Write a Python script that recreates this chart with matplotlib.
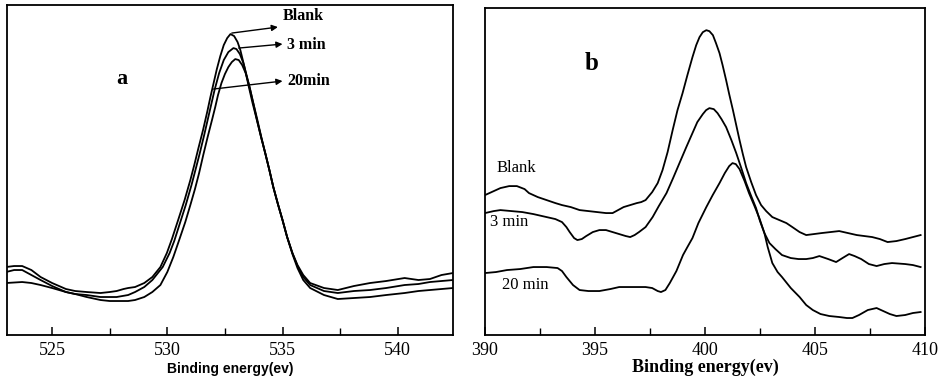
import matplotlib
matplotlib.use("Agg")
import matplotlib.pyplot as plt
from matplotlib.ticker import MultipleLocator

# ---- panel a : O 1s spectra, (binding energy, intensity) ----
a_blank = [(523.0, 68), (523.35, 69), (523.7, 69), (524.1, 65), (524.5, 58), (525.0, 52),
           (525.6, 46), (526.0, 44), (526.5, 43), (527.1, 42), (527.5, 43), (527.8, 44),
           (528.1, 46), (528.3, 47), (528.6, 48), (529.0, 52), (529.35, 58), (529.7, 68),
           (529.98, 82), (530.2, 96), (530.47, 115), (530.75, 135), (531.0, 155), (531.17, 170),
           (531.34, 186), (531.55, 205), (531.74, 224), (531.87, 238), (532.0, 251), (532.15, 266),
           (532.3, 279), (532.45, 290), (532.6, 297), (532.74, 301), (532.9, 299), (533.05, 293),
           (533.17, 285), (533.35, 268), (533.52, 250), (533.7, 232), (533.9, 214), (534.08, 197),
           (534.26, 181), (534.43, 165), (534.6, 148), (534.8, 131), (535.0, 115), (535.2, 98),
           (535.43, 82), (535.65, 70), (535.9, 60), (536.2, 52), (536.8, 47), (537.4, 45),
           (538.1, 49), (538.8, 52), (539.5, 54), (540.3, 57), (540.9, 55), (541.4, 56),
           (541.9, 60), (542.4, 62)]

a_3min = [(523.0, 63), (523.35, 65), (523.7, 65), (524.1, 60), (524.5, 55), (525.0, 49),
          (525.6, 43), (526.0, 41), (526.5, 40), (527.1, 38), (527.5, 38), (527.8, 38),
          (528.3, 40), (528.6, 43), (529.0, 48), (529.35, 55), (529.8, 68), (530.1, 82),
          (530.3, 94), (530.55, 112), (530.8, 130), (531.05, 150), (531.22, 165), (531.4, 181),
          (531.6, 200), (531.78, 218), (531.92, 232), (532.05, 245), (532.25, 262), (532.45, 275),
          (532.65, 283), (532.87, 287), (533.0, 286), (533.15, 281), (533.3, 272), (533.45, 259),
          (533.6, 245), (533.75, 230), (533.9, 214), (534.08, 197), (534.26, 181), (534.43, 165),
          (534.6, 148), (534.8, 131), (535.0, 115), (535.2, 98), (535.43, 82), (535.65, 69),
          (535.9, 58), (536.2, 50), (536.8, 44), (537.4, 42), (538.1, 44), (538.8, 45),
          (539.5, 47), (540.3, 50), (540.9, 51), (541.4, 53), (541.9, 54), (542.4, 55)]

a_20min = [(523.0, 52), (523.7, 53), (524.1, 52), (524.5, 50), (525.0, 47), (525.6, 43),
           (526.0, 41), (526.5, 38), (527.1, 35), (527.5, 34), (527.8, 34), (528.3, 34),
           (528.6, 35), (529.0, 38), (529.35, 43), (529.7, 50), (530.0, 63), (530.26, 78),
           (530.5, 94), (530.78, 113), (531.0, 130), (531.2, 146), (531.38, 162), (531.56, 180),
           (531.75, 198), (531.95, 216), (532.08, 228), (532.2, 240), (532.35, 252), (532.5, 261),
           (532.65, 268), (532.8, 273), (532.95, 276), (533.1, 275), (533.25, 270), (533.4, 262),
           (533.55, 250), (533.7, 235), (533.9, 216), (534.08, 198), (534.26, 181), (534.43, 165),
           (534.6, 148), (534.8, 131), (535.0, 115), (535.2, 98), (535.43, 81), (535.65, 67),
           (535.9, 55), (536.2, 47), (536.8, 40), (537.4, 36), (538.1, 37), (538.8, 38),
           (539.5, 40), (540.3, 42), (540.9, 44), (541.4, 45), (541.9, 46), (542.4, 47)]

a_ticks = [525, 530, 535, 540]

# ---- panel b : N 1s spectra ----
b_blank = [(390.0, 140), (390.4, 144), (390.7, 147), (391.1, 149), (391.45, 149), (391.8, 146),
           (392.0, 142), (392.4, 138), (392.8, 135), (393.2, 132), (393.5, 130), (393.9, 128),
           (394.3, 125), (394.7, 124), (395.1, 123), (395.5, 122), (395.8, 122), (396.05, 125),
           (396.3, 128), (396.6, 130), (396.9, 132), (397.1, 133), (397.3, 135), (397.6, 143),
           (397.85, 152), (398.07, 165), (398.3, 183), (398.53, 205), (398.75, 225), (398.98, 242),
           (399.2, 260), (399.43, 278), (399.6, 290), (399.75, 298), (399.9, 303), (400.06, 305),
           (400.2, 304), (400.36, 300), (400.5, 292), (400.66, 282), (400.8, 270), (400.96, 255),
           (401.1, 241), (401.27, 225), (401.42, 210), (401.57, 195), (401.72, 181), (401.87, 168),
           (402.1, 153), (402.32, 140), (402.55, 130), (402.78, 124), (403.06, 118), (403.38, 115),
           (403.7, 112), (403.97, 108), (404.3, 103), (404.6, 100), (404.95, 101), (405.3, 102),
           (405.7, 103), (406.1, 104), (406.5, 102), (406.9, 100), (407.25, 99), (407.6, 98),
           (407.95, 96), (408.3, 93), (408.7, 94), (409.1, 96), (409.45, 98), (409.8, 100)]

b_3min = [(390.0, 122), (390.4, 124), (390.7, 125), (391.2, 124), (391.7, 123), (392.2, 121),
          (392.8, 118), (393.2, 116), (393.5, 113), (393.7, 108), (393.85, 103), (394.05, 97),
          (394.2, 95), (394.4, 96), (394.6, 99), (394.9, 103), (395.2, 105), (395.5, 105),
          (395.8, 103), (396.1, 101), (396.4, 99), (396.6, 98), (396.8, 100), (397.0, 103),
          (397.3, 108), (397.62, 118), (397.9, 129), (398.25, 142), (398.55, 157), (398.84, 172),
          (399.15, 188), (399.43, 202), (399.65, 213), (399.9, 221), (400.05, 225), (400.2, 227),
          (400.4, 226), (400.57, 222), (400.75, 216), (400.96, 208), (401.2, 195), (401.42, 182),
          (401.65, 167), (401.87, 152), (402.1, 139), (402.32, 127), (402.5, 114), (402.7, 102),
          (402.93, 92), (403.2, 86), (403.5, 80), (403.9, 77), (404.25, 76), (404.6, 76),
          (404.9, 77), (405.2, 79), (405.6, 76), (405.96, 73), (406.25, 77), (406.55, 81),
          (406.8, 79), (407.1, 76), (407.45, 71), (407.8, 69), (408.15, 71), (408.5, 72),
          (409.1, 71), (409.45, 70), (409.8, 68)]

b_20min = [(390.0, 62), (390.5, 63), (391.0, 65), (391.6, 66), (392.2, 68), (392.8, 68),
           (393.3, 67), (393.5, 64), (393.7, 58), (394.0, 50), (394.3, 45), (394.7, 44),
           (395.2, 44), (395.7, 46), (396.1, 48), (396.6, 48), (397.0, 48), (397.3, 48),
           (397.6, 47), (397.85, 44), (398.0, 43), (398.2, 45), (398.4, 52), (398.7, 64),
           (399.0, 80), (399.2, 88), (399.43, 97), (399.7, 112), (400.06, 128), (400.35, 140),
           (400.66, 152), (400.9, 162), (401.1, 169), (401.25, 172), (401.4, 171), (401.57, 166),
           (401.8, 154), (402.0, 142), (402.25, 129), (402.47, 117), (402.7, 102), (402.85, 88),
           (403.06, 72), (403.3, 63), (403.5, 58), (403.9, 47), (404.3, 38), (404.6, 30),
           (404.9, 25), (405.25, 21), (405.65, 19), (406.1, 18), (406.45, 17), (406.7, 17),
           (407.0, 20), (407.4, 25), (407.8, 27), (408.1, 24), (408.4, 21), (408.7, 19),
           (409.1, 20), (409.45, 22), (409.8, 23)]

b_ticks = [390, 395, 400, 405, 410]

serif = "Liberation Serif"
sans = "Liberation Sans"


def draw(ax, curve):
    xs, ys = zip(*curve)
    ax.plot(xs, ys, color="black", lw=1.3, solid_joinstyle="round")


fig = plt.figure(figsize=(9.41, 3.90), dpi=100)
ax1 = fig.add_axes([0.0074, 0.141, 0.474, 0.846])
ax2 = fig.add_axes([0.5154, 0.141, 0.4676, 0.838])

for ax in (ax1, ax2):
    for s in ax.spines.values():
        s.set_linewidth(1.3)
    ax.set_yticks([])
    ax.tick_params(axis="x", which="major", direction="in", length=6, width=1.1,
                   pad=5, labelsize=13)
    ax.tick_params(axis="x", which="minor", direction="in", length=5, width=1.0)
    ax.xaxis.set_minor_locator(MultipleLocator(2.5))

# panel a
for c in (a_blank, a_3min, a_20min):
    draw(ax1, c)
ax1.set_xlim(523.04, 542.4)
ax1.set_ylim(0, 330)
ax1.set_xticks(a_ticks)
ax1.set_xticklabels([str(t) for t in a_ticks], fontfamily=serif, fontsize=13)
ax1.set_xlabel("Binding energy(ev)", fontfamily=sans, fontweight="bold",
               fontsize=10, labelpad=2)

arrow = dict(arrowstyle="-|>", color="black", lw=1.0, mutation_scale=9,
             shrinkA=0, shrinkB=0)
ax1.annotate("", xy=(534.8, 308), xytext=(532.8, 302), arrowprops=arrow)
ax1.annotate("", xy=(535.0, 291), xytext=(533.1, 287), arrowprops=arrow)
ax1.annotate("", xy=(535.0, 254), xytext=(532.0, 246), arrowprops=arrow)
ax1.text(535.0, 319, "Blank", fontfamily=serif, fontweight="bold", fontsize=11.5,
         va="center", ha="left")
ax1.text(535.2, 290, "3 min", fontfamily=serif, fontweight="bold", fontsize=11.5,
         va="center", ha="left")
ax1.text(535.2, 254, "20min", fontfamily=serif, fontweight="bold", fontsize=11.5,
         va="center", ha="left")
ax1.text(528.04, 256, "a", fontfamily=serif, fontweight="bold", fontsize=16,
         va="center", ha="center")

# panel b
for c in (b_blank, b_3min, b_20min):
    draw(ax2, c)
ax2.set_xlim(390, 410)
ax2.set_ylim(0, 327)
ax2.set_xticks(b_ticks)
ax2.set_xticklabels([str(t) for t in b_ticks], fontfamily=serif, fontsize=13)
ax2.set_xlabel("Binding energy(ev)", fontfamily=serif, fontweight="bold",
               fontsize=13, labelpad=0)
ax2.text(390.54, 167, "Blank", fontfamily=serif, fontsize=12, va="center", ha="left")
ax2.text(390.23, 113, "3 min", fontfamily=serif, fontsize=12, va="center", ha="left")
ax2.text(390.77, 50, "20 min", fontfamily=serif, fontsize=12, va="center", ha="left")
ax2.text(394.85, 272, "b", fontfamily=serif, fontweight="bold", fontsize=18,
         va="center", ha="center")

fig.savefig("out.png", dpi=100)
